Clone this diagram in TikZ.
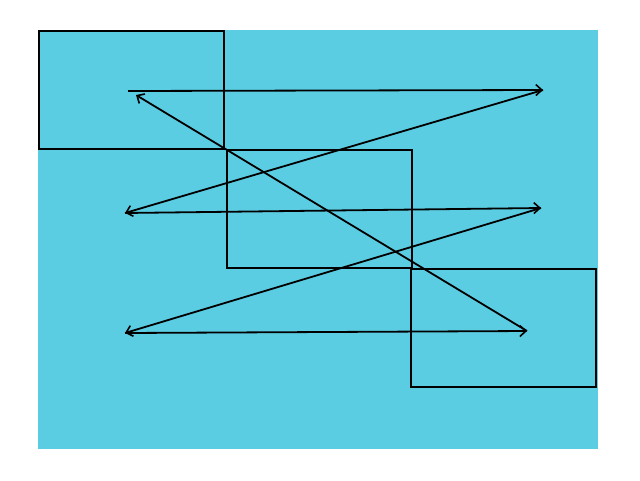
\documentclass[tikz,border=0pt]{standalone}
\usetikzlibrary{arrows.meta}
\definecolor{bgcyan}{HTML}{5BCDE3}
\tikzset{
  box/.style={draw=black, line width=2pt, fill=none},
  conn/.style={draw=black, line width=1.8pt, -{Straight Barb[length=6pt,width=11pt,line width=1.6pt]}},
}
\begin{document}
\begin{tikzpicture}[x=1pt,y=-1pt]
\useasboundingbox (0,0) rectangle (640,480);
\fill[bgcyan] (38,30) rectangle (598,449);
\draw[box] (39,31) rectangle (224,149);
\draw[box] (226.8,150) rectangle (412,268);
\draw[box] (411,269) rectangle (596,387);
\coordinate (s) at (128,91);
\coordinate (a) at (543,90);
\coordinate (b) at (125,213);
\coordinate (c) at (541,208);
\coordinate (d) at (125,333);
\coordinate (e) at (527,331);
\coordinate (f) at (136,95);
\draw[conn] (s) -- (a);
\draw[conn] (a) -- (b);
\draw[conn] (b) -- (c);
\draw[conn] (c) -- (d);
\draw[conn] (d) -- (e);
\draw[conn] (e) -- (f);
\end{tikzpicture}
\end{document}
